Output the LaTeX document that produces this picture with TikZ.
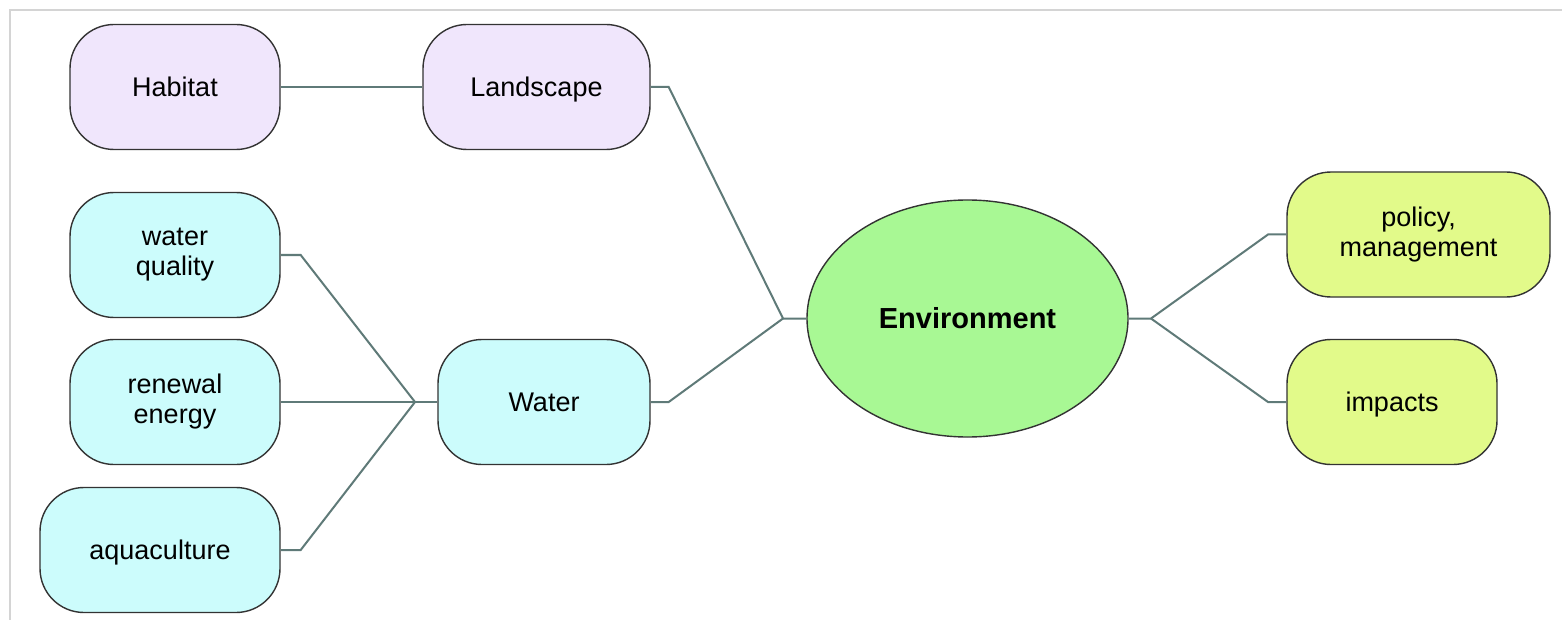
\documentclass[tikz,border=0pt]{standalone}
\usepackage{fontspec}
\setmainfont{Liberation Sans}
\usetikzlibrary{shapes.geometric}
\begin{document}
\begin{tikzpicture}[x=0.5pt,y=-0.5pt,
  font=\fontsize{13.5}{15}\selectfont,
  box/.style={draw=black!80, line width=0.7pt, rounded corners=22pt, minimum height=62.5pt, inner sep=0pt, align=center},
  oneline/.style={text height=9.7pt, text depth=0pt},
  lav/.style={box, fill=lavfill},
  cya/.style={box, fill=cyafill},
  yel/.style={box, fill=yelfill},
  link/.style={draw=linkcol, line width=1pt},
]
\definecolor{lavfill}{HTML}{F0E6FC}
\definecolor{cyafill}{HTML}{CCFCFC}
\definecolor{greenfill}{HTML}{A8F894}
\definecolor{yelfill}{HTML}{E2FA8A}
\definecolor{linkcol}{HTML}{5F7A78}
\definecolor{framecol}{HTML}{D4D4D4}
\useasboundingbox (0,0) rectangle (1562,620);
\fill[white] (0,0) rectangle (1562,620);
\coordinate (f1) at (10,620);
\coordinate (f2) at (10,10);
\coordinate (f3) at (1562,10);
\draw[framecol, line width=1pt] (f1) -- (f2) -- (f3);

\node[lav, oneline, minimum width=105pt] (hab) at (175,87) {Habitat};
\node[lav, oneline, minimum width=113.5pt] (land) at (536.5,87) {Landscape};
\node[cya, minimum width=105pt] (wq) at (175,255) {water\\quality};
\node[cya, minimum width=105pt] (re) at (175,402) {renewal\\energy};
\node[cya, oneline, minimum width=120pt] (aq) at (160,550) {aquaculture};
\node[cya, oneline, minimum width=106pt] (wat) at (544,402) {Water};
\node[draw=black!80, line width=0.7pt, fill=greenfill, ellipse, minimum width=160.5pt, minimum height=118.5pt, inner sep=0pt, text height=10.4pt, text depth=0pt, font=\fontsize{14.5}{16}\selectfont\bfseries] (env) at (967.5,318.5) {Environment};
\node[yel, minimum width=131.5pt] (pol) at (1418.5,234.5) {policy,\\management};
\node[yel, oneline, minimum width=105pt] (imp) at (1392,402) {impacts};

\coordinate (jl) at (783,318.5);
\coordinate (jw) at (415,402);
\coordinate (jr) at (1151,318.5);

\draw[link] (hab) -- (land);
\draw[link] (land.east) -- ++(18,0) -- (jl) -- (env.west);
\draw[link] (wat.east) -- ++(18,0) -- (jl);
\draw[link] (wat.west) -- (jw);
\draw[link] (wq.east) -- ++(20,0) -- (jw);
\draw[link] (re.east) -- (jw);
\draw[link] (aq.east) -- ++(20,0) -- (jw);
\draw[link] (env.east) -- (jr) -- ++(117,-84) -- (pol.west);
\draw[link] (jr) -- ++(117,83.5) -- (imp.west);
\end{tikzpicture}
\end{document}
